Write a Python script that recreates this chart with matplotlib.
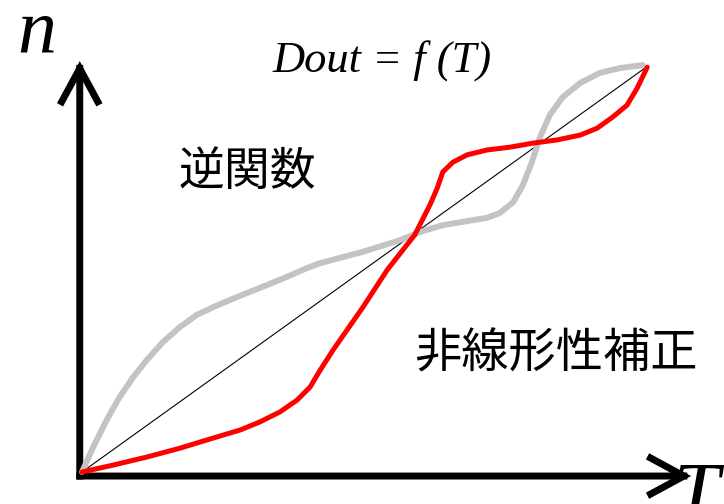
import matplotlib
matplotlib.use("Agg")
import matplotlib.pyplot as plt
from matplotlib.patches import FancyArrowPatch

# normalised T / n values (0..1 on both axes)
gray_t = [0.0, 0.020, 0.044, 0.067, 0.091, 0.115, 0.144, 0.174, 0.204, 0.233,
          0.263, 0.293, 0.329, 0.364, 0.400, 0.423, 0.499, 0.565, 0.600, 0.641,
          0.684, 0.719, 0.742, 0.766, 0.783, 0.799, 0.813, 0.831, 0.854, 0.885,
          0.920, 0.956, 0.996]
gray_n = [0.0, 0.062, 0.129, 0.186, 0.235, 0.277, 0.322, 0.359, 0.389, 0.408,
          0.426, 0.443, 0.463, 0.483, 0.505, 0.517, 0.545, 0.574, 0.594, 0.611,
          0.621, 0.629, 0.641, 0.668, 0.710, 0.767, 0.827, 0.884, 0.928, 0.963,
          0.988, 1.000, 1.007]

red_t = [0.0, 0.055, 0.115, 0.174, 0.233, 0.281, 0.316, 0.352, 0.382, 0.405,
         0.423, 0.446, 0.499, 0.542, 0.591, 0.618, 0.631, 0.641, 0.659, 0.684,
         0.719, 0.760, 0.801, 0.844, 0.885, 0.915, 0.943, 0.968, 0.986, 1.004]
red_n = [0.0, 0.017, 0.037, 0.059, 0.084, 0.104, 0.124, 0.149, 0.178, 0.210,
         0.252, 0.302, 0.408, 0.500, 0.587, 0.661, 0.703, 0.743, 0.767, 0.785,
         0.797, 0.804, 0.814, 0.822, 0.834, 0.851, 0.879, 0.908, 0.950, 1.002]

line_t = [0.0, 1.0]
line_n = [0.0, 1.0]

W, H = 724, 504
fig = plt.figure(figsize=(W / 100, H / 100), dpi=100)
ax = fig.add_axes([82 / W, (H - 472) / H, (645 - 82) / W, (472 - 68) / H])
ax.set_xlim(0, 1)
ax.set_ylim(0, 1)
ax.axis("off")

ax.plot(line_t, line_n, color="black", lw=0.8, clip_on=False)
ax.plot(gray_t, gray_n, color="#c3c3c3", lw=4.3, clip_on=False,
        solid_joinstyle="round", solid_capstyle="round")
ax.plot(red_t, red_n, color="#ff0000", lw=3.6, clip_on=False,
        solid_joinstyle="round", solid_capstyle="round")

# axes arrows
corner = (-0.004, -0.01)
for tip in [(-0.004, 1.017), (1.082, -0.01)]:
    arr = FancyArrowPatch(corner, tip, arrowstyle="->,head_length=1.2,head_width=0.65",
                          mutation_scale=20, lw=5.0, color="black",
                          shrinkA=0, shrinkB=0, capstyle="projecting",
                          joinstyle="miter", clip_on=False)
    ax.add_patch(arr)

serif = "Liberation Serif"
fig.text(37 / W, (H - 53) / H, "n", family=serif, style="italic", fontsize=56,
         ha="center", va="baseline")
fig.text(673 / W, (H - 518) / H, "T", family=serif, style="italic", fontsize=60,
         ha="left", va="baseline")
fig.text(382 / W, (H - 73) / H, "Dout = f (T)", family=serif, style="italic",
         fontsize=32, ha="center", va="baseline")

cjk = ["Noto Sans CJK JP", "DejaVu Sans"]
fig.text(247 / W, (H - 172) / H, "逆関数", family=cjk, fontsize=33,
         ha="center", va="center")
fig.text(556 / W, (H - 354) / H, "非線形性補正", family=cjk, fontsize=34,
         ha="center", va="center")

fig.savefig("out.png", dpi=100)
